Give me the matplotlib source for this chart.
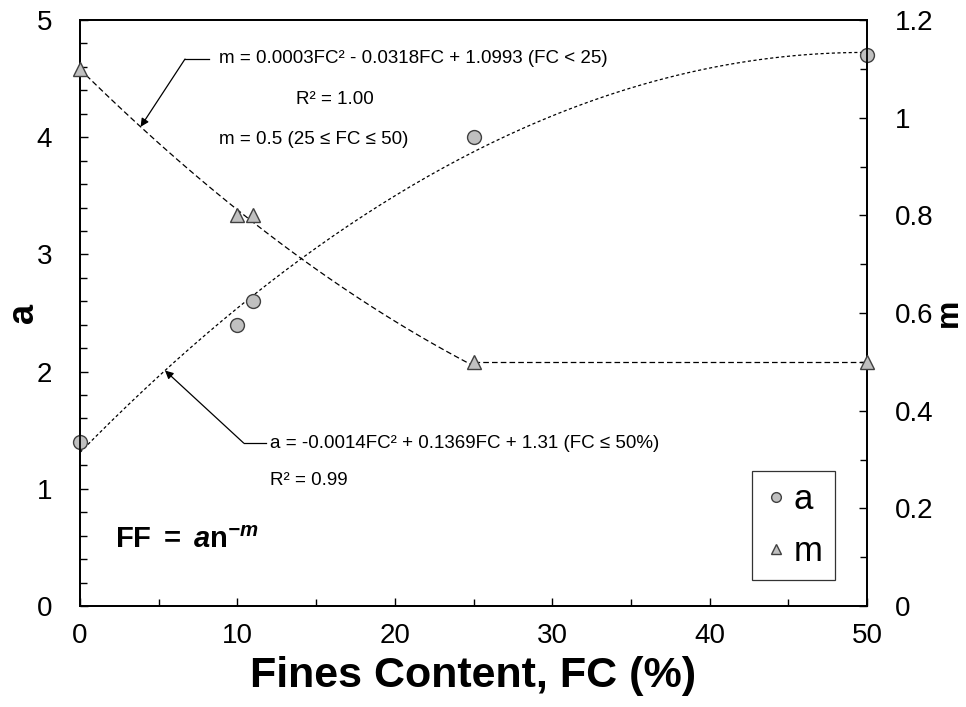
import numpy as np
import matplotlib

matplotlib.use("Agg")

import matplotlib.pyplot as plt
from matplotlib.ticker import MultipleLocator
from matplotlib.lines import Line2D

# measured points
FC = [0, 10, 11, 25, 50]
A_VALS = [1.4, 2.4, 2.6, 4.0, 4.7]
M_VALS = [1.1, 0.8, 0.8, 0.5, 0.5]

# trendline coefficients for m as printed on the chart
M_COEF = [0.0003, -0.0318, 1.0993]
M_FLAT = 0.5
FC_BREAK = 25

FILL = "#C0C0C0"
EDGE = "#404040"

plt.rcParams.update({
    "font.family": ["Liberation Sans", "DejaVu Sans"],
    "mathtext.fontset": "custom",
    "mathtext.rm": "Liberation Sans",
    "mathtext.bf": "Liberation Sans:bold",
    "mathtext.it": "Liberation Sans:italic",
    "mathtext.bfit": "Liberation Sans:bold:italic",
})

fig = plt.figure(figsize=(9.66, 7.07), dpi=100)
ax = fig.add_axes([80 / 966, 101 / 707, 787 / 966, 586 / 707])
ax2 = ax.twinx()

# trend lines
fa = np.linspace(0, 50, 200)
a_fit = np.polyfit(FC, A_VALS, 2)
ax.plot(fa, np.polyval(a_fit, fa), color="black", lw=0.9, ls=(0, (2.5, 2.0)), zorder=2)

fm = np.linspace(0, FC_BREAK, 120)
ax2.plot(fm, np.polyval(M_COEF, fm), color="black", lw=0.9, ls=(0, (4.5, 2.5)), zorder=2)
ax2.plot([FC_BREAK, 50], [M_FLAT, M_FLAT], color="black", lw=0.9, ls=(0, (4.5, 2.5)), zorder=2)

# markers
ax.plot(FC, A_VALS, "o", ms=10, mfc=FILL, mec=EDGE, mew=1.0, clip_on=False, zorder=5)
ax2.plot(FC, M_VALS, "^", ms=10.5, mfc=FILL, mec=EDGE, mew=1.0, clip_on=False, zorder=5)

# axes
ax.set_xlim(0, 50)
ax.set_ylim(0, 5)
ax2.set_ylim(0, 1.2)
ax.xaxis.set_major_locator(MultipleLocator(10))
ax.xaxis.set_minor_locator(MultipleLocator(5))
ax.yaxis.set_major_locator(MultipleLocator(1))
ax.yaxis.set_minor_locator(MultipleLocator(0.2))
ax2.yaxis.set_minor_locator(MultipleLocator(0.1))
ax2.set_yticks([0, 0.2, 0.4, 0.6, 0.8, 1.0, 1.2])
ax2.set_yticklabels(["0", "0.2", "0.4", "0.6", "0.8", "1", "1.2"])

for a_ in (ax, ax2):
    a_.tick_params(which="both", direction="in", labelsize=20, width=1.0, color="black")
    a_.tick_params(which="major", length=6)
    a_.tick_params(which="minor", length=5)
    for s in a_.spines.values():
        s.set_linewidth(1.3)
ax.tick_params(axis="x", pad=12)
ax.tick_params(axis="y", pad=20, right=False)
ax2.tick_params(axis="y", pad=20)

ax.set_xlabel("Fines Content, FC (%)", fontsize=31, fontweight="bold")
ax.xaxis.set_label_coords(0.5, -0.085)
ax.set_ylabel("a", fontsize=26, fontweight="bold")
ax.yaxis.set_label_coords(-0.05, 0.5)
ax2.set_ylabel("m", fontsize=23, fontweight="bold")
ax2.yaxis.set_label_coords(1.085, 0.5)

# annotations for m
ax2.plot([6.67, 8.2], [1.12, 1.12], color="black", lw=0.9)
ax2.annotate("", xy=(3.85, np.polyval(M_COEF, 3.85)), xytext=(6.67, 1.12),
             arrowprops=dict(arrowstyle="-|>", color="black", lw=0.9,
                             mutation_scale=12, shrinkA=0, shrinkB=0))
ax2.text(8.8, 1.122, "m = 0.0003FC\u00b2 - 0.0318FC + 1.0993 (FC < 25)",
         fontsize=13.5, ha="left", va="center")
ax2.text(16.2, 1.038, "R\u00b2 = 1.00", fontsize=13.5, ha="center", va="center")
ax2.text(8.8, 0.955, "m = 0.5 (25 \u2264 FC \u2264 50)", fontsize=13.5, ha="left", va="center")

# annotations for a
ax.plot([10.4, 11.8], [1.39, 1.39], color="black", lw=0.9)
ax.annotate("", xy=(5.4, np.polyval(a_fit, 5.4)), xytext=(10.4, 1.39),
            arrowprops=dict(arrowstyle="-|>", color="black", lw=0.9,
                            mutation_scale=12, shrinkA=0, shrinkB=0))
ax.text(12.1, 1.39, "a = -0.0014FC\u00b2 + 0.1369FC + 1.31 (FC \u2264 50%)",
        fontsize=13.5, ha="left", va="center")
ax.text(12.1, 1.07, "R\u00b2 = 0.99", fontsize=13.5, ha="left", va="center")

ax.text(2.2, 0.56, r"$\mathbf{FF\ =\ }\mathbfit{a}\mathbf{n}^{\mathbfit{-m}}$",
        fontsize=21, ha="left", va="center")

handles = [
    Line2D([], [], marker="o", ls="none", ms=7, mfc=FILL, mec=EDGE, mew=1.0),
    Line2D([], [], marker="^", ls="none", ms=7, mfc=FILL, mec=EDGE, mew=1.0),
]
leg = ax2.legend(handles, ["a", "m"], loc="lower right", bbox_to_anchor=(0.959, 0.044),
                 fontsize=25, frameon=True, fancybox=False, borderpad=0.35,
                 handletextpad=0.15, handlelength=0.7, labelspacing=0.55,
                 borderaxespad=0)
leg.get_frame().set_edgecolor("black")
leg.get_frame().set_linewidth(0.9)

fig.savefig("out.png", dpi=100)
